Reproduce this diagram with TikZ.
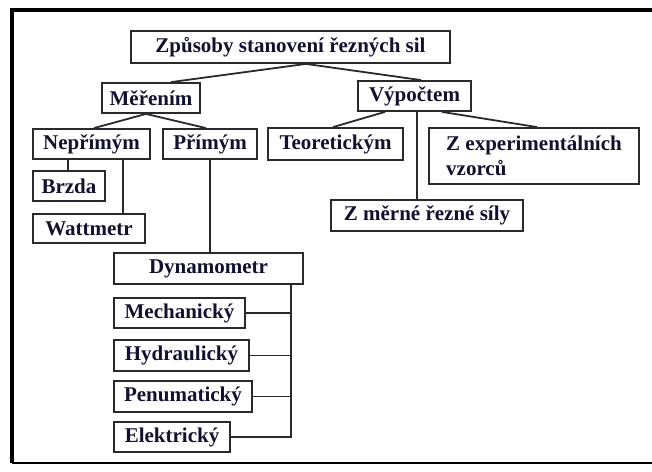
\documentclass[tikz,border=0pt]{standalone}
\usepackage{fontspec}
\setmainfont{Liberation Serif}
\usetikzlibrary{calc}
\definecolor{txt}{HTML}{121230}
\definecolor{edge}{HTML}{2A2A2A}
\begin{document}
\begin{tikzpicture}[x=1pt,y=-1pt,
  box/.style={draw=edge, line width=1.8pt, fill=white, inner sep=0pt, text=txt,
    font=\bfseries\fontsize{21}{25}\selectfont},
  conn/.style={draw=edge, line width=1.8pt}]
\useasboundingbox (0,0) rectangle (652,471);
\fill[white] (0,0) rectangle (652,471);
% frame
\draw[line width=4pt] (12,463) -- (12,10) -- (652,10);
\draw[line width=1.5pt] (12,463) -- (652,463);
% nodes
\node[box, minimum width=319, minimum height=32] (top) at (290.5,47) {Způsoby stanovení řezných sil};
\node[box, minimum width=98, minimum height=30] (mer) at (151,98) {Měřením};
\node[box, minimum width=113, minimum height=30] (vyp) at (414.5,96) {Výpočtem};
\node[box, minimum width=117, minimum height=30] (nep) at (91.5,144) {Nepřímým};
\node[box, minimum width=94, minimum height=30] (pri) at (210,144) {Přímým};
\node[box, minimum width=135, minimum height=32] (teo) at (335.5,144) {Teoretickým};
\node[box, minimum width=210, minimum height=56, align=left] (zexp) at (534,156) {Z experimentálních\\vzorců};
\node[box, minimum width=72, minimum height=30] (brzda) at (69,186) {Brzda};
\node[box, minimum width=112, minimum height=29] (watt) at (89,228.5) {Wattmetr};
\node[box, minimum width=192, minimum height=31] (zmer) at (427,215.5) {Z měrné řezné síly};
\node[box, minimum width=189, minimum height=31] (dyn) at (208.5,268.5) {Dynamometr};
\node[box, minimum width=131, minimum height=30] (mech) at (179.5,313) {Mechanický};
\node[box, minimum width=135, minimum height=31] (hyd) at (181.5,355.5) {Hydraulický};
\node[box, minimum width=138, minimum height=31] (pen) at (183,396.5) {Penumatický};
\node[box, minimum width=116, minimum height=30] (ele) at (172,437) {Elektrický};
% connectors
\draw[conn] ([xshift=15.5pt]top.south) -- ([xshift=20pt]mer.north);
\draw[conn] ([xshift=15.5pt]top.south) -- ([xshift=6.5pt]vyp.north);
\draw[conn] ([xshift=-5pt]mer.south) -- ([xshift=2.5pt]nep.north);
\draw[conn] ([xshift=-5pt]mer.south) -- ([xshift=-4pt]pri.north);
\draw[conn] ([xshift=-29.5pt]vyp.south) -- ([xshift=-2.5pt]teo.north);
\draw[conn] ([xshift=27.5pt]vyp.south) -- ([xshift=3pt]zexp.north);
\draw[conn] ([xshift=2.5pt]vyp.south) -- ([xshift=2.5pt]vyp.south |- zmer.north);
\draw[conn] ([xshift=-1pt]brzda.north |- nep.south) -- ([xshift=-1pt]brzda.north);
\draw[conn] ([xshift=34pt]watt.north |- nep.south) -- ([xshift=34pt]watt.north);
\draw[conn] (pri.south) -- (pri.south |- dyn.north);
\coordinate (bus) at ([xshift=82.5pt]dyn.south);
\draw[conn] (bus) -- (bus |- ele.east) -- (ele.east);
\draw[conn] (mech.east) -- (mech.east -| bus);
\draw[conn] (hyd.east) -- (hyd.east -| bus);
\draw[conn] (pen.east) -- (pen.east -| bus);
\end{tikzpicture}
\end{document}
